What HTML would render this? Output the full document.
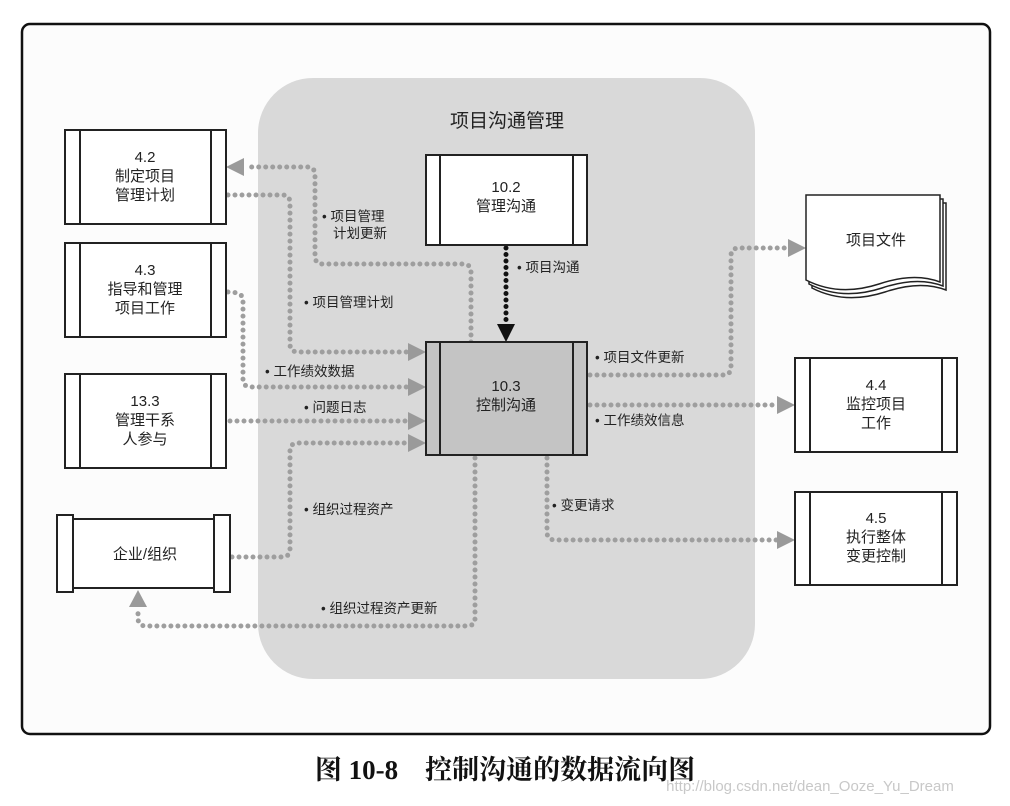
<!DOCTYPE html>
<html><head><meta charset="utf-8"><style>
html,body{margin:0;padding:0;background:#fff;}
svg{display:block;}
text{font-family:"Liberation Sans","Noto Sans CJK SC",sans-serif;fill:#222;}
</style></head><body>
<svg width="1010" height="806" viewBox="0 0 1010 806" xmlns="http://www.w3.org/2000/svg">
<rect x="22" y="24" width="968" height="710" rx="8" fill="#fcfcfc" stroke="#111" stroke-width="2.5"/>
<rect x="258" y="78" width="497" height="601" rx="55" fill="#d9d9d9"/>
<text x="507" y="127" font-size="19" text-anchor="middle">项目沟通管理</text>

<g fill="none" stroke="#9e9e9e" stroke-width="5" stroke-linecap="round" stroke-dasharray="0 7">
<path d="M471,342 V272 Q471,264 463,264 H323 Q315,264 315,256 V175 Q315,167 307,167 H245"/>
<path d="M228,195 H282 Q290,195 290,203 V344 Q290,352 298,352 H408"/>
<path d="M228,292 Q243,292 243,300 V379 Q243,387 251,387 H408"/>
<path d="M230,421 H408"/>
<path d="M232,557 H282 Q290,557 290,549 V451 Q290,443 298,443 H408"/>
<path d="M475,458 V618 Q475,626 467,626 H146 Q138,626 138,618 V608"/>
<path d="M590,375 H723 Q731,375 731,367 V256 Q731,248 739,248 H788"/>
<path d="M590,405 H778"/>
<path d="M547,458 V532 Q547,540 555,540 H778"/>
</g>
<g fill="#9a9a9a">
<path d="M226,167 L244,158 L244,176 Z"/>
<path d="M426,352 L408,343 L408,361 Z"/>
<path d="M426,387 L408,378 L408,396 Z"/>
<path d="M426,421 L408,412 L408,430 Z"/>
<path d="M426,443 L408,434 L408,452 Z"/>
<path d="M138,590 L129,607 L147,607 Z"/>
<path d="M806,248 L788,239 L788,257 Z"/>
<path d="M795,405 L777,396 L777,414 Z"/>
<path d="M795,540 L777,531 L777,549 Z"/>
</g>
<path d="M506,248 V324" stroke="#111" stroke-width="5" stroke-linecap="round" stroke-dasharray="0 6.5" fill="none"/>
<path d="M506,342 L497,324 L515,324 Z" fill="#111"/>

<g stroke="#222" stroke-width="2" fill="#fff">
<rect x="65" y="130" width="161" height="94"/><line x1="80" y1="130" x2="80" y2="224"/><line x1="211" y1="130" x2="211" y2="224"/>
<rect x="65" y="243" width="161" height="94"/><line x1="80" y1="243" x2="80" y2="337"/><line x1="211" y1="243" x2="211" y2="337"/>
<rect x="65" y="374" width="161" height="94"/><line x1="80" y1="374" x2="80" y2="468"/><line x1="211" y1="374" x2="211" y2="468"/>
<rect x="73" y="519" width="141" height="69"/><rect x="57" y="515" width="16" height="77"/><rect x="214" y="515" width="16" height="77"/>
<rect x="426" y="155" width="161" height="90"/><line x1="440" y1="155" x2="440" y2="245"/><line x1="573" y1="155" x2="573" y2="245"/>
<rect x="426" y="342" width="161" height="113" fill="#c4c4c4"/><line x1="440" y1="342" x2="440" y2="455"/><line x1="573" y1="342" x2="573" y2="455"/>
<rect x="795" y="358" width="162" height="94"/><line x1="810" y1="358" x2="810" y2="452"/><line x1="942" y1="358" x2="942" y2="452"/>
<rect x="795" y="492" width="162" height="93"/><line x1="810" y1="492" x2="810" y2="585"/><line x1="942" y1="492" x2="942" y2="585"/>
</g>
<g stroke="#222" stroke-width="1.5" fill="#fff">
<path d="M812,203 H946 V290 Q920,280 885,292 Q845,305 812,288 Z"/>
<path d="M809,199 H943 V286 Q917,276 882,288 Q842,301 809,284 Z"/>
<path d="M806,195 H940 V282 Q914,272 879,284 Q839,297 806,280 Z"/>
</g>

<g font-size="15" text-anchor="middle">
<text x="145" y="162">4.2</text><text x="145" y="181">制定项目</text><text x="145" y="200">管理计划</text>
<text x="145" y="275">4.3</text><text x="145" y="294">指导和管理</text><text x="145" y="313">项目工作</text>
<text x="145" y="406">13.3</text><text x="145" y="425">管理干系</text><text x="145" y="444">人参与</text>
<text x="145" y="559">企业/组织</text>
<text x="506" y="192">10.2</text><text x="506" y="211">管理沟通</text>
<text x="506" y="391">10.3</text><text x="506" y="410">控制沟通</text>
<text x="876" y="245">项目文件</text>
<text x="876" y="390">4.4</text><text x="876" y="409">监控项目</text><text x="876" y="428">工作</text>
<text x="876" y="523">4.5</text><text x="876" y="542">执行整体</text><text x="876" y="561">变更控制</text>
</g>
<g font-size="13.5">
<text x="322" y="221">• 项目管理</text><text x="333" y="238">计划更新</text>
<text x="304" y="307">• 项目管理计划</text>
<text x="265" y="376">• 工作绩效数据</text>
<text x="304" y="412">• 问题日志</text>
<text x="304" y="514">• 组织过程资产</text>
<text x="321" y="613">• 组织过程资产更新</text>
<text x="517" y="272">• 项目沟通</text>
<text x="595" y="362">• 项目文件更新</text>
<text x="595" y="425">• 工作绩效信息</text>
<text x="552" y="510">• 变更请求</text>
</g>
<text x="505" y="779" font-size="27" font-weight="bold" text-anchor="middle" style="font-family:'Liberation Serif','Noto Serif CJK SC',serif;fill:#111">图 10-8　控制沟通的数据流向图</text>
<text x="810" y="791" font-size="15" text-anchor="middle" style="fill:#c8c8c8">http://blog.csdn.net/dean_Ooze_Yu_Dream</text>
</svg>
</body></html>
